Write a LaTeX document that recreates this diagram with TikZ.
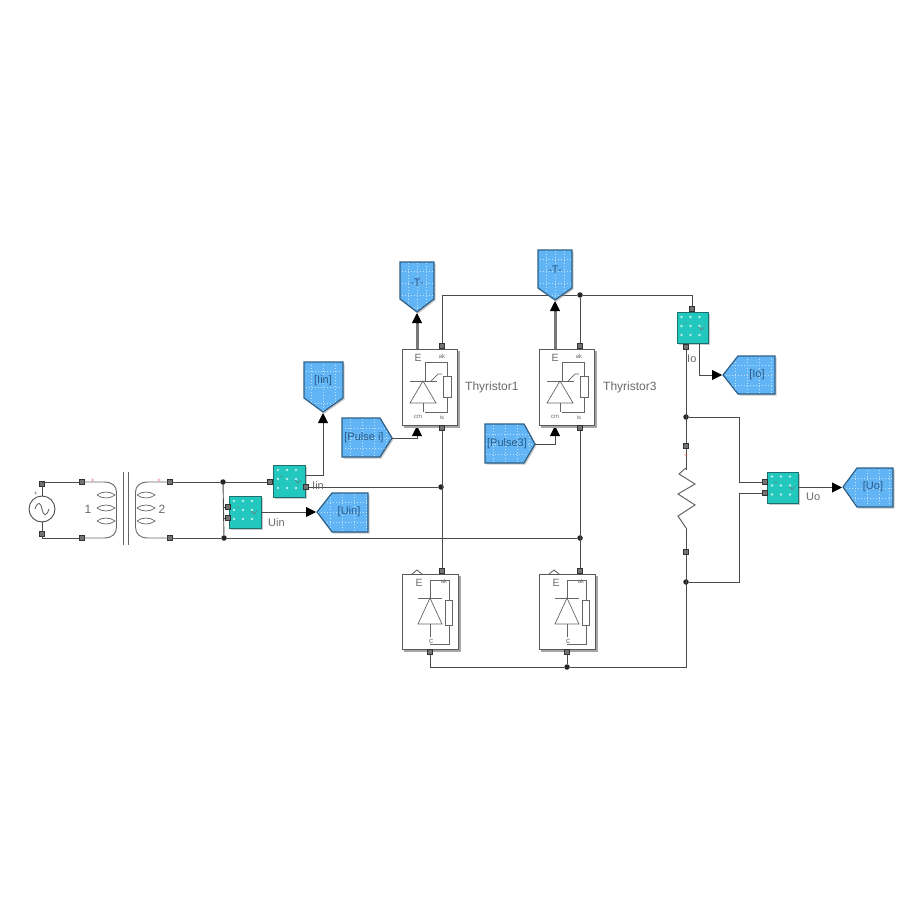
\documentclass[tikz,border=0pt]{standalone}
\usepackage{fontspec}
\setmainfont{Liberation Sans}
\usetikzlibrary{arrows.meta}
\definecolor{tagblue}{HTML}{62B5F5}
\definecolor{tagedge}{HTML}{2F5F85}
\definecolor{meterteal}{HTML}{22C7BE}
\definecolor{meteredge}{HTML}{1F6F70}
\definecolor{wirecol}{HTML}{4A4A4A}
\definecolor{txtcol}{HTML}{6A6A6A}
\definecolor{tagtxt}{HTML}{2A5A88}
\tikzset{
 wire/.style={draw=wirecol,line width=0.9pt},
 bus/.style={draw=wirecol!75,line width=3pt},
 arrowed/.style={-{Triangle[length=10pt,width=10pt,fill=black,color=black]}},
 port/.style={draw=black!80,fill=black!55,line width=0.7pt,minimum size=4.5pt,inner sep=0pt,outer sep=0pt,rectangle},
 dot/.style={circle,fill=black!85,minimum size=5.5pt,inner sep=0pt,outer sep=0pt},
 lbl/.style={font=\fontsize{12}{14}\selectfont,text=txtcol,inner sep=0pt},
 sml/.style={font=\fontsize{11}{13}\selectfont,text=txtcol,inner sep=0pt},
 ttxt/.style={font=\fontsize{11}{13}\selectfont,text=tagtxt,inner sep=0pt},
 tiny/.style={font=\fontsize{6}{7}\selectfont,text=txtcol,inner sep=0pt},
 big/.style={font=\fontsize{10.5}{12}\selectfont,text=txtcol,inner sep=0pt},
 tagedgestyle/.style={draw=tagedge,line width=1.2pt},
 glyph/.style={draw=black!60,line width=0.7pt},
 blockbox/.style={rectangle,draw=black!65,line width=0.9pt,fill=white,inner sep=0pt},
 meter/.style={rectangle,draw=meteredge,fill=meterteal,line width=1pt,inner sep=0pt}
}
% #1 name, #2 path points, #3 label position, #4 text, #5,#6 x and y range of the tag
\newcommand{\gototag}[6]{%
 \fill[black!40,opacity=.5,shift={(1.5,1.5)}] #2 -- cycle;
 \begin{scope}
 \clip #2 -- cycle;
 \fill[tagblue] #2 -- cycle;
 \foreach \gx in {#5}{\draw[white!60!tagblue,line width=1pt,dotted] (\gx,200) -- (\gx,560);}
 \foreach \gy in {#6}{\draw[white!60!tagblue,line width=1pt,dotted] (300,\gy) -- (900,\gy);}
 \end{scope}
 \draw[tagedgestyle] #2 -- cycle;
 \node[ttxt] (#1) at #3 {#4};
}
% #1 name, #2 x, #3 y of centre, #4 size
\newcommand{\meterblock}[4]{%
 \fill[black!40,opacity=.5] (#2-#4/2+1.5,#3-#4/2+1.5) rectangle (#2+#4/2+1.5,#3+#4/2+1.5);
 \node[meter,minimum size=#4pt] (#1) at (#2,#3) {};
 \foreach \ga in {-11,-2,7}{\foreach \gb in {-11,-2,7}{
  \fill[white!70!meterteal] (#2+\ga,#3+\gb) circle (1.3);
 }}
 \draw[black!55,line width=.5pt] (#2-9,#3-5) -- (#2-6,#3-5) (#2+6,#3-1) -- (#2+9,#3+2) -- (#2+12,#3-1);
}
\begin{document}
\begin{tikzpicture}[x=1pt,y=-1pt]
\useasboundingbox (0,0) rectangle (901,901);
\fill[white] (0,0) rectangle (901,901);

% ---- junctions and ports
\node[dot] (j1) at (223,482) {};
\node[dot] (j2) at (224,538) {};
\node[dot] (j3) at (441,487) {};
\node[dot] (j4) at (580,538) {};
\node[dot] (j5) at (580,295) {};
\node[dot] (j6) at (686,417) {};
\node[dot] (j7) at (686,582) {};
\node[dot] (j8) at (567,667) {};

\node[port] (srcT) at (42,484) {};
\node[port] (srcB) at (42,534) {};
\node[port] (trL1) at (82,482) {};
\node[port] (trL2) at (82,538) {};
\node[port] (trR1) at (170,482) {};
\node[port] (trR2) at (170,538) {};

% ---- wires
\draw[wire] (srcT) |- (trL1);
\draw[wire] (srcB) |- (trL2);
\draw[wire] (trR1) -- (j1);
\draw[wire] (trR2) -- (j2);
\draw[wire] (j1) -- (j2);
\draw[wire] (j1) -- (270,482);
\draw[wire] (224,507) -- (228,507);
\draw[wire] (224,518) -- (228,518);
\draw[wire] (306,487) -- (j3);
\draw[wire] (j2) -- (j4);

\draw[wire] (442,346) -- (442,295) -- (j5) -- (692,295) -- (692,309);
\draw[wire] (j5) -- (580,346);
\draw[wire] (442,428) -- (442,571);
\draw[wire] (580,428) -- (580,571);
\draw[wire] (686,347) -- (686,667) -- (j8) -- (430,667) -- (430,652);
\draw[wire] (j8) -- (567,652);
\draw[wire] (j6) -- (739,417) -- (739,482) -- (765,482);
\draw[wire] (j7) -- (739,582) -- (739,493) -- (765,493);

% ---- AC source
\node[circle,draw=black!70,line width=0.9pt,fill=white,minimum size=26pt,inner sep=0pt] (src) at (42,509) {};
\draw[wire] (srcT) -- (src);
\draw[wire] (srcB) -- (src);
\draw[glyph,line width=0.9pt] (35,509) .. controls (38,500) and (41,503) .. (42,509) .. controls (43,515) and (46,518) .. (49,509);
\node[tiny,text=black!70] (srcplus) at (36,494) {+};

% ---- transformer
\draw[glyph,line width=0.9pt] (trL1) -- (104,482) .. controls (112,482) and (116.5,486) .. (116.5,492) -- (116.5,527) .. controls (116.5,534) and (112,538) .. (104,538) -- (trL2);
\draw[glyph,line width=0.9pt] (trR1) -- (148,482) .. controls (140,482) and (135.5,486) .. (135.5,492) -- (135.5,527) .. controls (135.5,534) and (140,538) .. (148,538) -- (trR2);
\foreach \yy in {495,508,521}{
 \draw[glyph] (97,\yy) .. controls (102,\yy-4) and (110,\yy-4) .. (115,\yy) .. controls (110,\yy+4) and (102,\yy+4) .. (97,\yy);
 \draw[glyph] (137,\yy) .. controls (142,\yy-4) and (150,\yy-4) .. (155,\yy) .. controls (150,\yy+4) and (142,\yy+4) .. (137,\yy);
}
\draw[black!60,line width=1pt] (123,472) -- (123,545);
\draw[black!60,line width=1pt] (128,472) -- (128,545);
\node[lbl] (n1) at (88,509) {1};
\node[lbl] (n2) at (162,509) {2};
\node[tiny,text=red!70] (pl1) at (93,481) {+};
\node[tiny,text=red!70] (pl2) at (159,481) {+};

% ---- meters
\meterblock{mI}{289}{481}{32}
\meterblock{mU}{245}{512}{32}
\meterblock{mIo}{692.5}{328}{31}
\meterblock{mUo}{783}{487.5}{31}
\node[port] (mIa) at (270,482) {};
\node[port] (mIb) at (306,487) {};
\node[port] (mUa) at (228,507) {};
\node[port] (mUb) at (228,518) {};
\node[port] (mIoa) at (692,309) {};
\node[port] (mIob) at (686,347) {};
\node[port] (mUoa) at (765,482) {};
\node[port] (mUob) at (765,493) {};

% ---- goto tags
\gototag{tIin}{(304,362) -- (343,362) -- (343,398) -- (323,412) -- (304,398)}{(323,381)}{[Iin]}{311,323,335}{371,387,403}
\gototag{tUin}{(317,512) -- (332,493) -- (368,493) -- (368,532) -- (332,532)}{(349,512)}{[Uin]}{330,342,354,366}{502,512,522}
\gototag{tPi}{(342,418) -- (380,418) -- (392,438) -- (380,457) -- (342,457)}{(364,438)}{[Pulse i]}{350,362,374,386}{428,438,448}
\gototag{tP3}{(485,424) -- (524,424) -- (535,444) -- (524,463) -- (485,463)}{(507,444)}{[Pulse3]}{493,505,517,529}{434,444,454}
\gototag{tT1}{(400,262) -- (434,262) -- (434,299) -- (417,312) -- (400,299)}{(417,283)}{-T-}{408,417,426}{271,283,295,307}
\gototag{tT3}{(538,250) -- (572,250) -- (572,288) -- (555,300) -- (538,288)}{(555,270)}{-T-}{546,555,564}{259,271,283,295}
\gototag{tIo}{(723,375) -- (738,356) -- (775,356) -- (775,394) -- (738,394)}{(757,375)}{[Io]}{735,747,759,771}{365,375,385}
\gototag{tUo}{(843,487) -- (857,468) -- (893,468) -- (893,507) -- (857,507)}{(873,487)}{[Uo]}{855,867,879,889}{478,488,498}

% ---- signal wires with arrows
\draw[wire,arrowed] (305,475) -- (323,475) -- (tIin.south |- 0,413);
\draw[wire,arrowed] (mU.east |- 0,512) -- (316,512);
\draw[wire,arrowed] (699,344) -- (699,375) -- (722,375);
\draw[wire,arrowed] (mUo.east) -- (842,487.5);
\draw[wire,arrowed] (392,438) -- (417,438) -- (417,426);
\draw[wire,arrowed] (535,444) -- (555,444) -- (555,426);
\draw[bus] (417,349) -- (417,322);
\draw[bus] (555,349) -- (555,310);
\draw[wire,arrowed] (417,323) -- (417,313);
\draw[wire,arrowed] (555,311) -- (555,301);

% ---- thyristor and diode blocks
\foreach \bx/\nm in {402/1,539/3}{
 \begin{scope}[shift={(\bx-402,0)}]
 \fill[black!35] (404,351) rectangle (459.5,427.5);
 \node[blockbox,minimum width=55pt,minimum height=76pt,anchor=north west] (th\nm) at (402,349) {};
 \node[big] (thE\nm) at (418,358) {E};
 \node[tiny] (thk\nm) at (442,356) {ak};
 \node[tiny] (thm\nm) at (418,417) {cm};
 \node[tiny] (tha\nm) at (442,417) {is};
 \draw[glyph] (425,362) -- (447,362) -- (447,376);
 \draw[glyph] (447,397) -- (447,412) -- (425,412);
 \draw[glyph,fill=white] (443,376) rectangle (451,397);
 \draw[glyph] (425,362) -- (425,381);
 \draw[glyph] (423,403) -- (423,412);
 \draw[glyph] (410,403) -- (436,403) -- (423,381) -- cycle;
 \draw[glyph] (410,381) -- (437,381);
 \draw[glyph] (431,381) -- (438,374) -- (442,374);
 \end{scope}
}
\node[port] (th1t) at (442,346) {};
\node[port] (th1b) at (442,428) {};
\node[port] (th3t) at (580,346) {};
\node[port] (th3b) at (580,428) {};
\node[lbl,anchor=west] (th1l) at (465,387) {Thyristor1};
\node[lbl,anchor=west] (th3l) at (603,387) {Thyristor3};

\foreach \bx/\nm in {402/1,539/3}{
 \begin{scope}[shift={(\bx-402,0)}]
 \fill[black!35] (404,576) rectangle (460.5,651.5);
 \node[blockbox,minimum width=56pt,minimum height=75pt,anchor=north west] (di\nm) at (402,574) {};
 \draw[black!65,line width=0.8pt] (412,574) -- (417,570) -- (422,574);
 \node[big] (diE\nm) at (419,583) {E};
 \node[tiny] (dik\nm) at (444,581) {ak};
 \node[tiny,font=\fontsize{8}{9}\selectfont] (dic\nm) at (431,641) {c};
 \draw[glyph] (430,580) -- (449,580) -- (449,600);
 \draw[glyph] (449,625) -- (449,644) -- (430,644);
 \draw[glyph,fill=white] (445,600) rectangle (452,625);
 \draw[glyph] (430,580) -- (430,598);
 \draw[glyph] (430,624) -- (430,637);
 \draw[glyph] (418,624) -- (442,624) -- (430,598) -- cycle;
 \draw[glyph] (418,598) -- (442,598);
 \end{scope}
}
\node[port] (di1t) at (442,571) {};
\node[port] (di1b) at (430,652) {};
\node[port] (di3t) at (580,571) {};
\node[port] (di3b) at (567,652) {};

% ---- load resistor
\node[port] (rT) at (686,446) {};
\node[port] (rB) at (686,552) {};
\draw[white,line width=2pt] (686,470) -- (686,528);
\draw[glyph,line width=1pt] (686,468) -- (679,474) -- (695,484) -- (678,494) -- (695,505) -- (678,516) -- (686,528);
\node[tiny,text=red!70] (rp) at (686,456) {+};

% ---- labels
\node[sml,anchor=west] (lIin) at (312,486) {Iin};
\node[sml,anchor=west] (lUin) at (268,523) {Uin};
\node[sml,anchor=west] (lIo) at (687,359) {Io};
\node[sml,anchor=west] (lUo) at (806,497) {Uo};
\end{tikzpicture}
\end{document}
